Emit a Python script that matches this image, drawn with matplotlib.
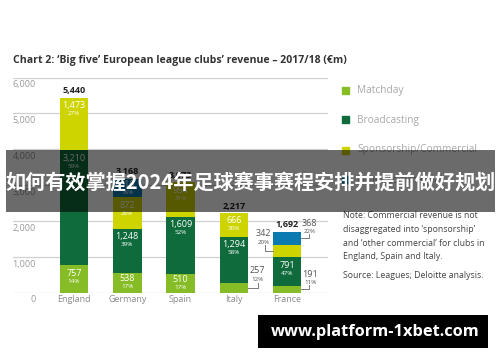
import matplotlib
matplotlib.use("Agg")
import matplotlib.pyplot as plt
import numpy as np

# ---------------- data ----------------
countries = ["England", "Germany", "Spain", "Italy", "France"]
matchday = [757, 538, 510, 257, 191]
broadcasting = [3210, 1248, 1609, 1294, 791]
sponsorship = [1473, 872, 954, 666, 342]
other_commercial = [0, 510, 0, 0, 368]
pct_matchday = ["14%", "17%", "17%", "12%", "11%"]
pct_broadcasting = ["59%", "39%", "52%", "58%", "47%"]
pct_sponsorship = ["27%", "28%", "31%", "30%", "20%"]
pct_other = ["", "16%", "", "", "22%"]
totals = [5440, 3168, 3073, 2217, 1692]
yticks = [0, 1000, 2000, 3000, 4000, 5000, 6000]
legend_labels = ["Matchday", "Broadcasting", "Sponsorship/Commercial", "Other commercial"]

colors = ["#86bc25", "#0f6b3b", "#cdd400", "#0a7ab0"]

W, H = 500, 362
fig = plt.figure(figsize=(W / 100, H / 100), dpi=100)
FONT = "Open Sans"

def fx(x):
    return x / W

def fy(y):
    return 1 - y / H

# axes placement (pixel-based)
left_px, right_px = 13, 328
base_px, top_px = 292.5, 77.5
ax = fig.add_axes([fx(left_px), fy(base_px), (right_px - left_px) / W, (base_px - top_px) / H])
x = np.arange(len(countries))
spacing = 53.25
ax.set_xlim((left_px - 74) / spacing, (right_px - 74) / spacing)
ax.set_ylim(0, 6000)
ax.axis("off")
bw = 28.5 / spacing

for t in yticks:
    ax.axhline(t, color="#d0d0d0", lw=0.9, zorder=0)
    ax.annotate(f"{t:,}", xy=(ax.get_xlim()[0], t), xytext=(23, -7.5),
                textcoords="offset pixels", ha="right", va="center",
                fontsize=6.5, color="#9a9a9a", family=FONT)

series = [matchday, broadcasting, sponsorship, other_commercial]
pcts = [pct_matchday, pct_broadcasting, pct_sponsorship, pct_other]
bottom = np.zeros(len(countries))
tops = []
for s, c in zip(series, colors):
    vals = np.array(s, dtype=float)
    ax.bar(x, vals, width=bw, bottom=bottom, color=c, zorder=2, linewidth=0)
    tops.append(bottom + vals)
    bottom = bottom + vals

px_per_unit = (base_px - top_px) / 6000.0

# outside labels: (series index, country index): (side, text dx, text dy, bracket dx, bracket dy)
outside = {
    (0, 3): ("right", 9, 17, 10, 5),
    (0, 4): ("right", 9, 15, 8, 4),
    (2, 4): ("left", -9, 17.5, -8, 6),
    (3, 4): ("right", 8, 15, 8, 4),
}

for si, s in enumerate(series):
    for ci in range(len(countries)):
        v = s[ci]
        if v == 0:
            continue
        top = tops[si][ci]
        bot = top - v
        if (si, ci) in outside:
            side, tdx, tdy, bdx, bdy = outside[(si, ci)]
            mid = (top + bot) / 2
            ex = x[ci] + (bw / 2 if side == "right" else -bw / 2)
            p0 = ax.transData.transform((ex, mid))
            pts = np.array([p0, p0 + [bdx, 0], p0 + [bdx, bdy]])
            ax.plot(pts[:, 0], pts[:, 1], transform=None, color="#7a7a7a", lw=0.7, zorder=3)
            ax.annotate(f"{v:,}", xy=(ex, mid), xytext=(tdx, tdy), textcoords="offset pixels",
                        ha="center", va="center", fontsize=6.5, color="#555555", family=FONT)
            ax.annotate(pcts[si][ci], xy=(ex, mid), xytext=(tdx, tdy - 8.5), textcoords="offset pixels",
                        ha="center", va="center", fontsize=4.5, color="#555555", family=FONT)
        else:
            h = v * px_per_unit
            off = -min(8.0, h / 2 - 4.0)
            ax.annotate(f"{v:,}", xy=(x[ci], top), xytext=(0, off), textcoords="offset pixels",
                        ha="center", va="center", fontsize=6.5, color="white", family=FONT, zorder=4)
            ax.annotate(pcts[si][ci], xy=(x[ci], top), xytext=(0, off - 8), textcoords="offset pixels",
                        ha="center", va="center", fontsize=4.5, color="white", family=FONT, zorder=4)

for ci in range(len(countries)):
    ax.annotate(f"{totals[ci]:,}", xy=(x[ci], totals[ci]), xytext=(0, 7), textcoords="offset pixels",
                ha="center", va="center", fontsize=6.5, fontweight="bold", color="#222222", family=FONT)
    ax.annotate(countries[ci], xy=(x[ci], 0), xytext=(0, -7.5), textcoords="offset pixels",
                ha="center", va="center", fontsize=6.5, color="#8a8a8a", family=FONT)

# title
fig.text(fx(13), fy(60), "Chart 2: ‘Big five’ European league clubs’ revenue – 2017/18 (€m)",
         ha="left", va="center", fontsize=7.6, fontweight="bold", color="#333333", family=FONT)

# legend
leg_y = [90, 120, 150, 180]
for lbl, c, ly in zip(legend_labels, colors, leg_y):
    fig.patches.append(plt.Rectangle((fx(342), fy(ly + 3.5)), 7 / W, 7 / H, transform=fig.transFigure,
                                     color=c, zorder=5))
    fig.text(fx(357), fy(ly), lbl, ha="left", va="center", fontsize=7.3, color="#a8a8a8", family=FONT)

# notes
note_lines = ["Note: Commercial revenue is not",
              "disaggregated into ‘sponsorship’",
              "and ‘other commercial’ for clubs in",
              "England, Spain and Italy."]
for i, ln in enumerate(note_lines):
    fig.text(fx(343), fy(216 + i * 13.6), ln, ha="left", va="center", fontsize=6.3, color="#444444", family=FONT)
fig.text(fx(343), fy(276), "Source: Leagues; Deloitte analysis.", ha="left", va="center",
         fontsize=6.3, color="#444444", family=FONT)

# overlay banner
fig.patches.append(plt.Rectangle((fx(6), fy(212)), (495 - 6) / W, (212 - 150) / H, transform=fig.transFigure,
                                 color="black", alpha=0.58, zorder=10, linewidth=0))
fig.text(fx(250), fy(182), "如何有效掌握2024年足球赛事赛程安排并提前做好规划", ha="center", va="center",
         fontsize=14.5, fontweight="bold", color="white", family=["Noto Sans CJK SC", "DejaVu Sans"], zorder=11)

# watermark box
fig.patches.append(plt.Rectangle((fx(258), fy(348)), (488 - 258) / W, (348 - 315) / H, transform=fig.transFigure,
                                 color="black", zorder=10, linewidth=0))
fig.text(fx(375), fy(331.5), "www.platform-1xbet.com", ha="center", va="center",
         fontsize=11.8, fontweight="bold", color="white", family=FONT, zorder=11)

fig.savefig("out.png", dpi=100)
